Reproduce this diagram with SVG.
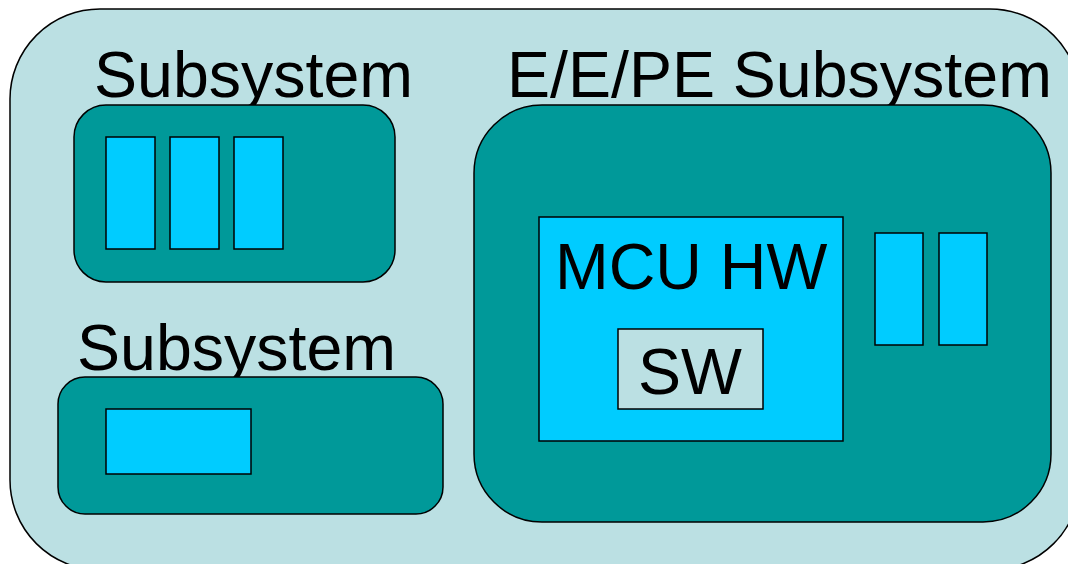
<svg xmlns="http://www.w3.org/2000/svg" width="1068" height="564" viewBox="0 0 1068 564">
<style>
.box{stroke:#000;stroke-width:1.5}
.light{fill:#BBE0E3}
.teal{fill:#009999}
.cyan{fill:#00CCFF}
.lbl{font-family:"Liberation Sans",Arial,sans-serif;font-size:64.5px;fill:#000}
</style>
<rect width="1068" height="564" fill="#ffffff"/>
<g id="system">
<rect class="box light" x="10" y="9" width="1070" height="561" rx="90" ry="90"/>
</g>
<g id="subsystem-1">
<text class="lbl" x="94" y="97">Subsystem</text>
<rect class="box teal" x="74" y="105" width="321" height="177" rx="32" ry="32"/>
<rect class="box cyan" x="106" y="137" width="49" height="112"/>
<rect class="box cyan" x="170" y="137" width="49" height="112"/>
<rect class="box cyan" x="234" y="137" width="49" height="112"/>
</g>
<g id="subsystem-2">
<text class="lbl" x="77" y="370">Subsystem</text>
<rect class="box teal" x="58" y="377" width="385" height="137" rx="27" ry="27"/>
<rect class="box cyan" x="106" y="409" width="145" height="65"/>
</g>
<g id="ee-pe-subsystem">
<text class="lbl" x="507" y="97">E/E/PE Subsystem</text>
<rect class="box teal" x="474" y="105" width="577" height="417" rx="68" ry="68"/>
<rect class="box cyan" x="875" y="233" width="48" height="112"/>
<rect class="box cyan" x="939" y="233" width="48" height="112"/>
</g>
<g id="mcu-hw">
<rect class="box cyan" x="539" y="217" width="304" height="224"/>
<text class="lbl" x="555" y="289">MCU HW</text>
</g>
<g id="sw">
<rect class="box light" x="618" y="329" width="145" height="80"/>
<text class="lbl" x="638" y="394">SW</text>
</g>
</svg>
